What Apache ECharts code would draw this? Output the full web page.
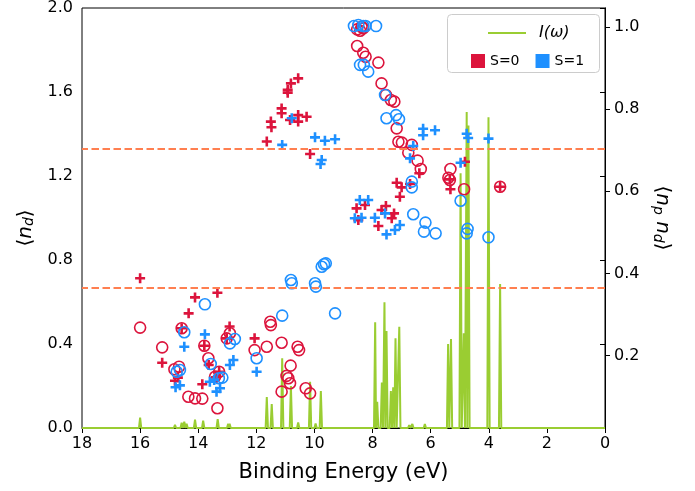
<!DOCTYPE html>
<html>
<head>
<meta charset="utf-8">
<script src="https://cdn.jsdelivr.net/npm/echarts@6/dist/echarts.min.js"></script>
<style>
  html, body { margin: 0; padding: 0; background: #fff; }
  #chart { width: 695px; height: 491px; }
</style>
</head>
<body>
<div id="chart"></div>
<script>
// binding energy (eV), <n_d>
const s0Circles = [
  [16.0,0.478],[15.24,0.384],[14.82,0.28],[14.66,0.292],[14.57,0.475],[14.34,0.149],[14.11,0.141],[13.86,0.14],
  [13.79,0.392],[13.65,0.332],[13.34,0.094],[13.28,0.268],[13.42,0.244],[13.02,0.427],[12.91,0.451],[12.06,0.371],
  [11.64,0.387],[11.52,0.506],[11.50,0.49],[11.13,0.406],[10.58,0.387],[10.53,0.371],[10.82,0.297],[10.96,0.248],
  [10.90,0.237],[10.84,0.213],[11.13,0.173],[10.30,0.189],[10.15,0.165],
  [8.53,1.898],[8.43,1.892],[8.38,1.911],[8.32,1.903],[8.53,1.819],[8.32,1.787],[8.24,1.768],[7.80,1.74],
  [7.69,1.641],[7.54,1.586],[7.37,1.562],[7.25,1.554],[7.17,1.427],[7.11,1.363],[6.99,1.359],[6.65,1.348],
  [6.77,1.311],[6.45,1.273],[6.34,1.233],[5.32,1.233],[5.39,1.192],[5.34,1.181],[4.85,1.137],[3.61,1.149]
];
const s0Plus = [
  [16.0,0.713],[14.11,0.622],[13.34,0.644],[14.33,0.546],[15.24,0.311],[14.8,0.225],[14.7,0.24],[13.86,0.208],
  [12.92,0.483],[13.02,0.427],[12.06,0.427],[13.79,0.392],[14.57,0.475],[13.28,0.268],[13.64,0.30],[13.39,0.241],
  [10.56,1.665],[10.81,1.641],[10.92,1.61],[10.92,1.597],[11.13,1.522],[11.13,1.499],[11.50,1.459],[11.48,1.432],
  [11.64,1.364],[10.56,1.49],[10.56,1.459],[10.27,1.482],[10.84,1.467],[10.15,1.305],
  [4.82,1.268],[6.39,1.213],[5.34,1.184],[5.32,1.137],[6.71,1.162],[7.17,1.168],[7.0,1.146],[7.06,1.101],
  [7.54,1.057],[7.69,1.038],[7.26,1.022],[7.34,0.999],[7.80,0.962],[8.55,1.046],[8.26,1.062],[8.49,0.99],[3.61,1.149]
];
const s1Circles = [
  [13.77,0.589],[14.48,0.456],[14.74,0.268],[14.63,0.276],[13.57,0.305],[13.29,0.237],[13.17,0.24],[12.91,0.403],
  [12.74,0.424],[11.99,0.332],
  [9.75,0.768],[9.67,0.78],[9.61,0.784],[10.81,0.705],[10.78,0.689],[9.98,0.689],[9.95,0.673],[11.11,0.535],[9.29,0.546],
  [8.64,1.914],[8.49,1.919],[8.32,1.914],[8.24,1.914],[7.88,1.914],[8.43,1.729],[8.30,1.729],[8.15,1.697],
  [7.57,1.586],[7.52,1.475],[7.19,1.49],[7.09,1.47],
  [6.65,1.173],[6.65,1.146],[6.60,1.018],[6.18,0.978],[6.23,0.935],[5.83,0.927],[4.97,1.082],[4.73,0.948],
  [4.76,0.927],[4.01,0.908]
];
const s1Plus = [
  [13.77,0.446],[14.48,0.387],[14.78,0.194],[14.63,0.203],[13.60,0.22],[13.37,0.173],[13.25,0.189],[12.91,0.30],
  [12.79,0.324],[11.99,0.268],[13.45,0.229],
  [10.78,1.475],[11.11,1.348],[9.98,1.384],[9.64,1.368],[9.29,1.375],[9.75,1.276],[9.79,1.257],
  [6.26,1.425],[5.85,1.418],[6.26,1.394],[4.76,1.401],[4.71,1.381],[4.01,1.378],[6.6,1.343],[6.71,1.284],
  [4.97,1.263],[8.44,1.086],[8.15,1.086],[8.61,0.999],[8.38,1.001],[7.92,1.001],[7.57,1.022],[7.52,0.922],
  [7.23,0.943],[7.06,0.967]
];
// spectrum I(w): peak position (eV) and height (in <n_d> units)
const peakE = [16.0,15.25,14.8,14.57,14.48,14.4,14.11,13.83,13.33,12.97,12.92,12.1,11.64,11.47,11.11,10.81,10.56,
  10.15,9.96,9.78,8.1,7.91,7.84,7.68,7.59,7.52,7.37,7.29,7.21,7.08,6.74,6.63,6.20,5.40,5.30,4.97,4.86,4.76,4.70,4.01,3.61];
const peakI = [0.05,0.008,0.015,0.025,0.03,0.02,0.04,0.035,0.042,0.02,0.02,0.006,0.148,0.114,0.332,0.2,0.027,
  0.22,0.022,0.176,0.005,0.503,0.125,0.216,0.599,0.462,0.176,0.194,0.427,0.482,0.014,0.019,0.019,0.40,0.424,1.213,0.451,1.505,1.44,1.48,0.686];
const refLevels = [1.333, 0.667];
const xTicks = [0, 2, 4, 6, 8, 10, 12, 14, 16, 18];
const rightTicks = [0.2, 0.4, 0.6, 0.8, 1.0];

const RED = '#DC143C', BLUE = '#1E90FF', GREEN = '#9ACD32', ORANGE = '#FF7F50';
const FONT = 'DejaVu Sans';
const plusPath = 'path://M0,3.7H10V6.3H0Z M3.7,0H6.3V10H3.7Z';

// spikes for the spectrum line
const hw = 0.04;
let spec = [[18, 0]];
peakE.forEach((e, i) => { spec.push([e + hw, 0], [e, peakI[i]], [e - hw, 0]); });
spec.push([0, 0]);
spec.sort((a, b) => b[0] - a[0]);

const chart = echarts.init(document.getElementById('chart'));

function circles(name, color, data) {
  return { name, type: 'scatter', data, symbol: 'circle', symbolSize: 11, z: 3,
    itemStyle: { color: 'rgba(0,0,0,0)', borderColor: color, borderWidth: 1.6, opacity: 1 } };
}
function pluses(name, color, data) {
  return { name, type: 'scatter', data, symbol: plusPath, symbolSize: 10, z: 3,
    itemStyle: { color, opacity: 1 } };
}

const option = {
  animation: false,
  textStyle: { fontFamily: FONT },
  grid: { left: 82, right: 90, top: 8, bottom: 63, show: true, borderColor: '#000', borderWidth: 1 },
  xAxis: {
    type: 'value', inverse: true, min: 0, max: 18, interval: 2,
    name: 'Binding Energy (eV)', nameLocation: 'middle', nameGap: 34,
    nameTextStyle: { fontSize: 21, color: '#000', fontFamily: FONT },
    axisLine: { lineStyle: { color: '#000' } },
    axisTick: { length: 5, lineStyle: { color: '#000' }, customValues: xTicks },
    axisLabel: { fontSize: 16, color: '#000', margin: 8, customValues: xTicks },
    splitLine: { show: false }
  },
  yAxis: [{
    type: 'value', min: 0, max: 2, interval: 0.4, position: 'left',
    name: '⟨{it|n}{sub|d}⟩', nameLocation: 'middle', nameGap: 43, nameRotate: 90,
    nameTextStyle: { fontSize: 20, color: '#000', fontFamily: FONT, padding: [0, 20, 0, 0],
      rich: { it: { fontSize: 20, fontStyle: 'italic', fontFamily: FONT },
              sub: { fontSize: 14, fontStyle: 'italic', fontFamily: FONT, padding: [8, 0, 0, 0] } } },
    axisLine: { show: true, lineStyle: { color: '#000' } },
    axisTick: { show: true, length: 5, lineStyle: { color: '#000' } },
    axisLabel: { fontSize: 16, color: '#000', margin: 9, formatter: v => v.toFixed(1) },
    splitLine: { show: false }
  }, {
    type: 'value', min: 0.0233, max: 1.0467, position: 'right',
    name: '⟨{it|n}{sub|p}{it| n}{sub|d}⟩', nameLocation: 'middle', nameGap: 46, nameRotate: -90,
    nameTextStyle: { fontSize: 20, color: '#000', fontFamily: FONT,
      rich: { it: { fontSize: 20, fontStyle: 'italic', fontFamily: FONT },
              sub: { fontSize: 14, fontStyle: 'italic', fontFamily: FONT, padding: [8, 0, 0, 0] } } },
    axisLine: { show: true, lineStyle: { color: '#000' } },
    axisTick: { show: true, length: 5, lineStyle: { color: '#000' }, customValues: rightTicks },
    axisLabel: { fontSize: 16, color: '#000', margin: 9, customValues: rightTicks, formatter: v => v.toFixed(1) },
    splitLine: { show: false }
  }],
  legend: [{
    data: [{ name: 'I(ω)', icon: 'rect' }],
    left: 483, top: 20, itemWidth: 38, itemHeight: 2, z: 10,
    textStyle: { fontSize: 16, fontStyle: 'italic', color: '#000', fontFamily: FONT, padding: [0, 0, 0, 8] }
  }, {
    data: [
      { name: 'S=0', icon: 'rect', itemStyle: { color: RED, borderWidth: 0, opacity: 1 } },
      { name: 'S=1', icon: 'rect', itemStyle: { color: BLUE, borderWidth: 0, opacity: 1 } }
    ],
    left: 466, top: 49, itemWidth: 14, itemHeight: 14, itemGap: 16, z: 10,
    textStyle: { fontSize: 14, color: '#000', fontFamily: FONT }
  }],
  graphic: [{
    type: 'rect', left: 447, top: 14, z: 9,
    shape: { width: 152, height: 58, r: 4 },
    style: { fill: 'rgba(255,255,255,0.85)', stroke: '#cccccc', lineWidth: 1 }
  }],
  series: [
    {
      name: 'I(ω)', type: 'line', data: spec, showSymbol: false, symbol: 'none', z: 2,
      lineStyle: { color: GREEN, width: 2 }, itemStyle: { color: GREEN },
      markLine: {
        silent: true, symbol: 'none', label: { show: false },
        lineStyle: { color: ORANGE, width: 2, type: [7.5, 3.5] },
        data: refLevels.map(v => ({ yAxis: v }))
      }
    },
    circles('S=0', RED, s0Circles),
    pluses('S=0', RED, s0Plus),
    circles('S=1', BLUE, s1Circles),
    pluses('S=1', BLUE, s1Plus)
  ]
};
chart.setOption(option);
</script>
</body>
</html>
